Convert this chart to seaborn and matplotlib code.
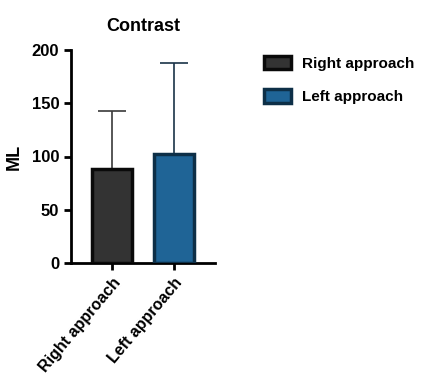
import matplotlib
matplotlib.use("Agg")
import matplotlib.pyplot as plt
import seaborn as sns
import pandas as pd
from matplotlib.patches import Patch

categories = ["Right approach", "Left approach"]
means = [88, 102]
sd_upper = [55, 86]
fill_colors = ["#333333", "#1f6496"]
edge_colors = ["#0a0a0a", "#0d2f47"]
err_colors = ["#3a3a3a", "#1a3348"]

sns.set_style("ticks")
plt.rcParams["font.family"] = ["Liberation Sans", "DejaVu Sans"]
plt.rcParams["font.weight"] = "bold"
plt.rcParams["text.color"] = "black"
plt.rcParams["axes.labelcolor"] = "black"
plt.rcParams["xtick.color"] = "black"
plt.rcParams["ytick.color"] = "black"

df = pd.DataFrame({"group": categories, "value": means})

fig = plt.figure(figsize=(4.29, 3.82), dpi=100)
ax = fig.add_axes([71/429, 1-263/382, 144/429, 213/382])

sns.barplot(data=df, x="group", y="value", hue="group", palette=fill_colors,
            order=categories, hue_order=categories, errorbar=None, width=0.63,
            saturation=1, legend=False, ax=ax, zorder=3)
for p, ec in zip(ax.patches, edge_colors):
    p.set_edgecolor(ec)
    p.set_linewidth(2.5)

for i, (m, s, c) in enumerate(zip(means, sd_upper, err_colors)):
    ax.errorbar(i, m, yerr=[[0], [s]], color=c, capsize=10, elinewidth=1.2,
                capthick=1.2, zorder=2)

ax.set_xlim(-0.66, 1.66)
ax.set_ylim(0, 200)
ax.set_yticks([0, 50, 100, 150, 200])
ax.set_xlabel("")
ax.set_ylabel("ML", fontsize=13, fontweight="bold", labelpad=6)
ax.set_title("Contrast", fontsize=13, fontweight="bold", pad=14)
for side in ["top", "right"]:
    ax.spines[side].set_visible(False)
for side in ["left", "bottom"]:
    ax.spines[side].set_linewidth(2)
    ax.spines[side].set_color("black")
ax.tick_params(axis="both", width=2, length=5, color="black", labelsize=12)
ax.set_xticks([0, 1])
ax.set_xticklabels(categories, rotation=50, ha="right", rotation_mode="anchor",
                   fontweight="bold", fontsize=11.5)
for t in ax.get_yticklabels():
    t.set_fontweight("bold")

handles = [Patch(facecolor=f, edgecolor=e, linewidth=2.5) for f, e in zip(fill_colors, edge_colors)]
leg = fig.legend(handles, categories, loc="upper left", bbox_to_anchor=(250/429, 1-42/382),
                 frameon=False, prop={"weight": "bold", "size": 11},
                 handlelength=1.8, handleheight=1.0, labelspacing=1.2, handletextpad=0.7)

fig.savefig("out.png", dpi=100)
